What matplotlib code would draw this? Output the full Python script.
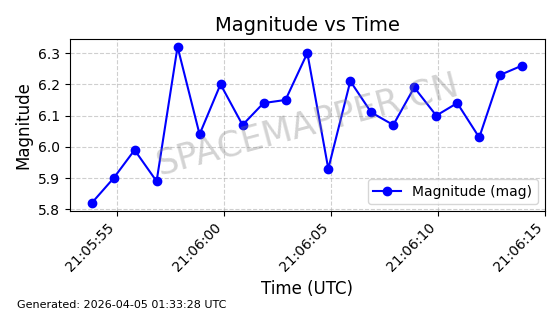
import matplotlib
matplotlib.use('Agg')
import matplotlib.pyplot as plt
import matplotlib.dates as mdates
import pandas as pd

# Observation times (about one per second) and magnitudes
time_strings = ['21:05:53.80', '21:05:54.83', '21:05:55.81', '21:05:56.84', '21:05:57.82',
                '21:05:58.85', '21:05:59.83', '21:06:00.86', '21:06:01.84', '21:06:02.87',
                '21:06:03.89', '21:06:04.87', '21:06:05.90', '21:06:06.88', '21:06:07.91',
                '21:06:08.89', '21:06:09.92', '21:06:10.90', '21:06:11.93', '21:06:12.91',
                '21:06:13.94']
magnitudes = [5.82, 5.90, 5.99, 5.89, 6.32, 6.04, 6.20, 6.07, 6.14, 6.15, 6.30,
              5.93, 6.21, 6.11, 6.07, 6.19, 6.10, 6.14, 6.03, 6.23, 6.26]
y_ticks = [5.8, 5.9, 6.0, 6.1, 6.2, 6.3]

times = pd.to_datetime(['2026-04-04 ' + t for t in time_strings])

fig, ax = plt.subplots(figsize=(5.6, 3.14), dpi=100)
fig.subplots_adjust(left=0.125, right=0.973, top=0.876, bottom=0.328)

ax.plot(times, magnitudes, 'o-', color='blue', markersize=6, linewidth=1.5,
        label='Magnitude (mag)')

ax.set_title('Magnitude vs Time', fontsize=14)
ax.set_xlabel('Time (UTC)', fontsize=12)
ax.set_ylabel('Magnitude', fontsize=12)
ax.set_yticks(y_ticks)
ax.set_xlim(times[0] - pd.Timedelta(seconds=1.01), pd.Timestamp('2026-04-04 21:06:15'))
ax.xaxis.set_major_formatter(mdates.DateFormatter('%H:%M:%S'))
ax.xaxis.set_major_locator(mdates.SecondLocator(bysecond=range(0, 60, 5)))
plt.setp(ax.get_xticklabels(), rotation=45, ha='right')
ax.grid(True, linestyle='--', alpha=0.6)
ax.legend(loc='lower right')

# Watermark
ax.text(0.5, 0.5, 'SPACEMAPPER.CN', transform=ax.transAxes, fontsize=25,
        color='gray', alpha=0.35, rotation=15, ha='center', va='center')

fig.text(0.03, 0.02, 'Generated: 2026-04-05 01:33:28 UTC', fontsize=8)

fig.savefig('out.png', dpi=100)
